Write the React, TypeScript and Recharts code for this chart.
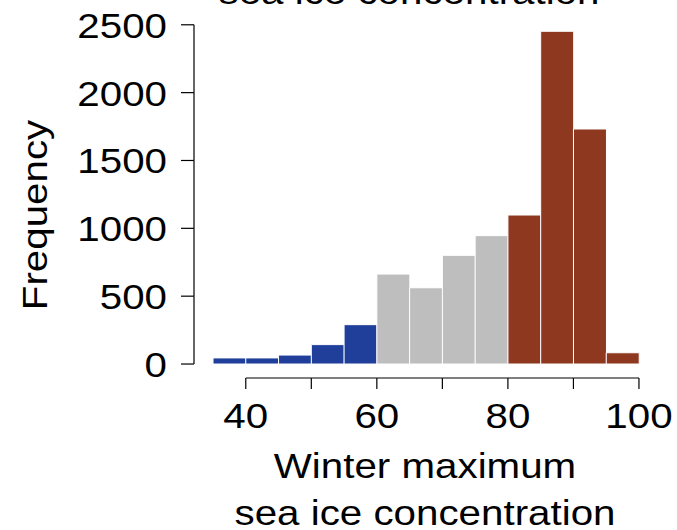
import React from "react";
import { BarChart, Bar, XAxis, YAxis, Cell } from "recharts";

// Histogram bins (left edges, width 5) and frequencies
const binStarts = [35, 40, 45, 50, 55, 60, 65, 70, 75, 80, 85, 90, 95];
const counts = [45, 45, 66, 143, 290, 663, 562, 801, 946, 1098, 2452, 1732, 83];
const groups = ["low", "low", "low", "low", "low", "mid", "mid", "mid", "mid", "high", "high", "high", "high"];
const groupColors: Record<string, string> = { low: "#203F9A", mid: "#BEBEBE", high: "#8E3820" };

const yTicks = [0, 500, 1000, 1500, 2000, 2500];
const xTicks = [40, 50, 60, 70, 80, 90, 100];
const xLabelTicks = [40, 60, 80, 100];

const title = "sea ice concentration";
const xLabel1 = "Winter maximum";
const xLabel2 = "sea ice concentration";
const yLabel = "Frequency";

const data = binStarts.map((b, i) => ({
  bin: `${b}-${b + 5}`,
  mid: b + 2.5,
  count: counts[i],
  group: groups[i],
}));

const W = 677;
const H = 530;
const M = { top: 18, right: 21, bottom: 92, left: 0 };
const Y_AXIS_W = 194;
const X_AXIS_H = 60;
const yDomain: [number, number] = [-103, 2550];
const xDomain: [number, number] = [32.1, 102.6];
const plotW = W - M.left - M.right - Y_AXIS_W;
const plotH = H - M.top - M.bottom - X_AXIS_H;
const pxPerY = plotH / (yDomain[1] - yDomain[0]);
const pxPerX = plotW / (xDomain[1] - xDomain[0]);

const FONT = "'Liberation Sans', Arial, Helvetica, sans-serif";
const FS = 36;
const SX = 1.12;

const YTick = (props: any) => {
  const { x, y, payload } = props;
  const v = payload.value;
  return (
    <g>
      <line x1={x - 13} x2={x} y1={y} y2={y} stroke="#000" strokeWidth={1.2} />
      {v < 2500 && (
        <line x1={x} x2={x} y1={y} y2={y - 500 * pxPerY} stroke="#000" strokeWidth={1.2} />
      )}
      <text
        transform={`translate(${x - 27},${y + 13}) scale(${SX},1)`}
        textAnchor="end"
        fontFamily={FONT}
        fontSize={FS}
        fill="#000"
      >
        {v}
      </text>
    </g>
  );
};

const XTick = (props: any) => {
  const { x, y, payload } = props;
  const v = payload.value;
  return (
    <g>
      <line x1={x} x2={x} y1={y} y2={y + 11} stroke="#000" strokeWidth={1.2} />
      {v < 100 && (
        <line x1={x} x2={x + 10 * pxPerX} y1={y} y2={y} stroke="#000" strokeWidth={1.2} />
      )}
      {xLabelTicks.includes(v) && (
        <text
          transform={`translate(${x},${y + 50}) scale(${SX},1)`}
          textAnchor="middle"
          fontFamily={FONT}
          fontSize={FS}
          fill="#000"
        >
          {v}
        </text>
      )}
    </g>
  );
};

const XLabel = (props: any) => {
  const vb = props.viewBox || {};
  const cx = vb.x + vb.width / 2;
  const y = vb.y;
  return (
    <g>
      <text
        transform={`translate(${cx},${y + 100}) scale(${SX},1)`}
        textAnchor="middle"
        fontFamily={FONT}
        fontSize={FS}
        fill="#000"
      >
        {xLabel1}
      </text>
      <text
        transform={`translate(${cx},${y + 147}) scale(${SX},1)`}
        textAnchor="middle"
        fontFamily={FONT}
        fontSize={FS}
        fill="#000"
      >
        {xLabel2}
      </text>
    </g>
  );
};

const YLabel = () => (
  <text
    transform={`translate(47,215) rotate(-90) scale(${SX},1)`}
    textAnchor="middle"
    fontFamily={FONT}
    fontSize={FS}
    fill="#000"
  >
    {yLabel}
  </text>
);

export default function App() {
  return (
    <div style={{ position: "absolute", left: 0, top: 0, width: W, height: H, background: "#fff" }}>
      <BarChart
        width={W}
        height={H}
        data={data}
        margin={M}
        barCategoryGap={0}
        barGap={0}
      >
        <XAxis xAxisId="cat" dataKey="bin" type="category" hide height={0} padding={{ left: 19, right: 17 }} />
        <XAxis
          xAxisId="num"
          dataKey="mid"
          type="number"
          domain={xDomain}
          allowDataOverflow
          ticks={xTicks}
          interval={0}
          axisLine={false}
          tickLine={false}
          tickSize={0}
          tickMargin={0}
          height={X_AXIS_H}
          tick={<XTick />}
          label={{ content: <XLabel /> }}
        />
        <YAxis
          type="number"
          domain={yDomain}
          allowDataOverflow
          ticks={yTicks}
          interval={0}
          axisLine={false}
          tickLine={false}
          tickSize={0}
          tickMargin={0}
          width={Y_AXIS_W}
          tick={<YTick />}
          label={{ content: <YLabel /> }}
        />
        <Bar dataKey="count" xAxisId="cat" isAnimationActive={false} stroke="#ffffff" strokeWidth={1}>
          {data.map((d, i) => (
            <Cell key={i} fill={groupColors[d.group]} />
          ))}
        </Bar>
      </BarChart>
      <svg
        width={W}
        height={30}
        style={{ position: "absolute", left: 0, top: 0, pointerEvents: "none", overflow: "visible" }}
      >
        <text
          transform={`translate(409,4) scale(${SX},1)`}
          textAnchor="middle"
          fontFamily={FONT}
          fontSize={FS}
          fill="#000"
        >
          {title}
        </text>
      </svg>
    </div>
  );
}
